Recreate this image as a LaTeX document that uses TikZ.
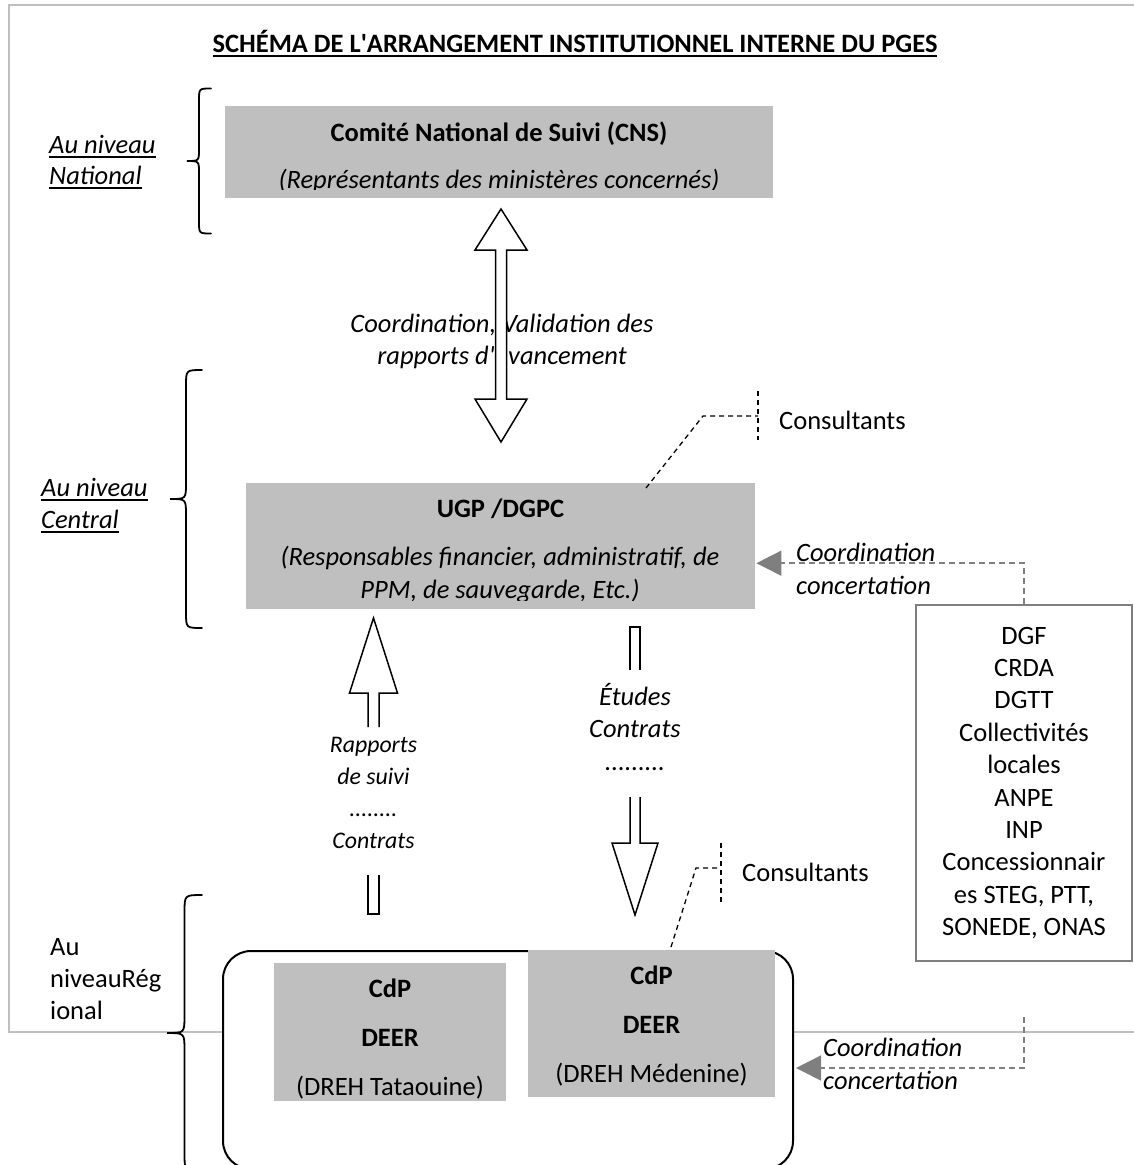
\documentclass[tikz,border=0pt]{standalone}
\usepackage{fontspec}
\setmainfont{Carlito}
\usetikzlibrary{arrows.meta,calc,positioning}
\definecolor{boxgray}{HTML}{BFBFBF}
\definecolor{framegray}{HTML}{BFBFBF}
\definecolor{linkgray}{HTML}{7F7F7F}
\AtBeginDocument{\fontsize{26.5}{32.4}\selectfont}
\newsavebox{\ulinebox}
\newcommand{\ulined}[1]{\sbox{\ulinebox}{#1}\rlap{\rule[-4.5pt]{\wd\ulinebox}{1.5pt}}\usebox{\ulinebox}}
\tikzset{
    frameline/.style={draw=framegray, line width=2pt},
    graybox/.style={fill=boxgray, inner sep=0pt, anchor=north west},
    lbl/.style={inner sep=0pt, align=center},
    lvl/.style={inner sep=0pt, align=left, anchor=base west},
    blockarrow/.style={draw, fill=white, line width=1.5pt},
    consline/.style={line width=1.3pt, dash pattern=on 5pt off 4pt},
    coordline/.style={draw=linkgray, line width=1.5pt, dash pattern=on 6pt off 4pt, -{Triangle[length=25pt, width=25pt]}},
    listbox/.style={draw=linkgray, line width=2pt, fill=white, align=center, inner sep=0pt},
    bracepath/.style={line width=1.8pt, line cap=round}
}
% tip x, tip y, half height, width
\newcommand{\levelbrace}[4]{%
  \draw[bracepath] ({#1+#4},{#2-#3}) .. controls ({#1+#4/2},{#2-#3}) .. ({#1+#4/2},{#2-#3+#4/2})
    -- ({#1+#4/2},{#2-#4/2}) .. controls ({#1+#4/2},{#2}) .. (#1,#2)
    .. controls ({#1+#4/2},{#2}) .. ({#1+#4/2},{#2+#4/2})
    -- ({#1+#4/2},{#2+#3-#4/2}) .. controls ({#1+#4/2},{#2+#3}) .. ({#1+#4},{#2+#3});
}

\begin{document}
\begin{tikzpicture}[x=1pt, y=-1pt]
  \useasboundingbox (0,0) rectangle (1134,1165);
  % page frame
  \draw[frameline] (1140,5) -- (9,5) -- (9,1032) -- (1140,1032);

  \node[lbl, anchor=base] (title) at (575,52)
    {\bfseries\ulined{SCHÉMA DE L\textquotesingle ARRANGEMENT INSTITUTIONNEL INTERNE DU PGES}};

  % levels
  \node[lvl, font=\fontsize{26.5}{31}\selectfont\itshape] (national) at (49,184) {\ulined{Au niveau}\\\ulined{National}};
  \node[lvl, font=\fontsize{26.5}{32}\selectfont\itshape] (central) at (41,528) {\ulined{Au niveau}\\\ulined{Central}};
  \node[lvl, fill=white, inner xsep=20pt, text width=116pt, font=\fontsize{26.5}{32}\selectfont] (regional) at (30,955) {Au\\niveauRég\\ional};
  \levelbrace{187}{161}{72.5}{24}
  \levelbrace{170}{499}{129}{32}
  \levelbrace{167}{1033}{138}{35}

  % national
  \node[graybox, minimum width=548pt, minimum height=92pt] (cns) at (225,106) {};
  \begin{scope}
    \clip (cns.north west) rectangle ($(cns.south east)+(0,-9)$);
    \node[lbl, anchor=base, font=\bfseries] (cnsname) at (499,141.6) {Comité National de Suivi (CNS)};
    \node[lbl, anchor=base, font=\itshape] (cnsmembers) at (499,188) {(Représentants des ministères concernés)};
  \end{scope}

  % central
  \node[graybox, minimum width=509pt, minimum height=126pt] (ugp) at (246,483) {};
  \begin{scope}
    \clip (ugp.north west) rectangle ($(ugp.south east)+(0,-9)$);
    \node[lbl, anchor=base, font=\bfseries] (ugpname) at (500.5,517) {UGP /DGPC};
    \node[lbl, anchor=base, font=\fontsize{26.5}{33}\selectfont\itshape] (ugpmembers) at (500,598)
      {(Responsables financier, administratif, de\\PPM, de sauvegarde, Etc.)};
  \end{scope}

  % block arrows
  \node[lbl, anchor=base, font=\fontsize{26.5}{31.7}\selectfont\itshape] (validation) at (502,364)
    {Coordination, Validation des\\rapports d\textquotesingle avancement};
  \draw[blockarrow] (501,209) -- (527,250) -- (506.5,250) -- (506.5,399) -- (527,399) -- (501,442)
    -- (475,399) -- (495.5,399) -- (495.5,250) -- (475,250) -- cycle;

  \node[lbl, anchor=base, font=\fontsize{23.8}{31.7}\selectfont\itshape] (reports) at (373.5,848)
    {Rapports\\de suivi\\........\\Contrats};
  \draw[blockarrow] (368,727) -- (368,693) -- (349.5,693) -- (373.5,618) -- (397.5,693) -- (379,693) -- (379,727);
  \draw[blockarrow] (368,875) -- (368,914) -- (379,914) -- (379,875);

  \node[lbl, anchor=base, font=\itshape] (studies) at (635,770) {Études\\Contrats\\.........};
  \draw[blockarrow] (630,670) -- (630,627) -- (640,627) -- (640,670);
  \draw[blockarrow] (630,797) -- (630,843) -- (612,843) -- (635,915) -- (658,843) -- (640,843) -- (640,797);

  % regional
  \node[draw, line width=2pt, fill=white, rounded corners=28pt, minimum width=570pt, minimum height=218pt,
    anchor=north west] (region) at (222,950) {};
  \node[graybox, minimum width=232pt, minimum height=138pt] (tata) at (274,963) {};
  \node[graybox, minimum width=247pt, minimum height=147pt] (mede) at (528,950) {};
  \node[lbl, anchor=base, font=\fontsize{26.5}{49}\selectfont] (tatalbl) at (390,1095)
    {\textbf{CdP}\\\textbf{DEER}\\(DREH Tataouine)};
  \node[lbl, anchor=base, font=\fontsize{26.5}{49}\selectfont] (medelbl) at (651.5,1082)
    {\textbf{CdP}\\\textbf{DEER}\\(DREH Médenine)};

  % consultants
  \node[anchor=west, inner sep=0pt] (cons1) at (779,420) {Consultants};
  \draw[consline] ($(ugp.north west)+(400,5)$) -- (703,416) -- ($(cons1.west)+(-21,-4)$);
  \draw[consline] ($(cons1.west)+(-21,-29)$) -- ++(0,49);
  \node[anchor=west, inner sep=0pt] (cons2) at (742,872) {Consultants};
  \draw[consline] ($(region.north west)+(449,-3)$) -- (696,868) -- ($(cons2.west)+(-21,-4)$);
  \draw[consline] ($(cons2.west)+(-21,-29)$) -- ++(0,59);

  % partners
  \node[listbox, minimum width=216pt, minimum height=356pt, anchor=north west] (dgf) at (915,604)
    {DGF\\CRDA\\DGTT\\Collectivités\\locales\\ANPE\\INP\\Concessionnair\\es STEG, PTT,\\SONEDE, ONAS};
  \node[lvl, font=\itshape] (coord1) at (796,594) {Coordination\\concertation};
  \draw[coordline] (dgf.north) |- ($(ugp.east)+(1,17)$);
  \node[lvl, font=\itshape] (coord2) at (823,1089) {Coordination\\concertation};
  \coordinate (pagecut) at (1024,1017);
  \draw[coordline] (pagecut) |- ($(region.east)+(2,8)$);
\end{tikzpicture}
\end{document}
